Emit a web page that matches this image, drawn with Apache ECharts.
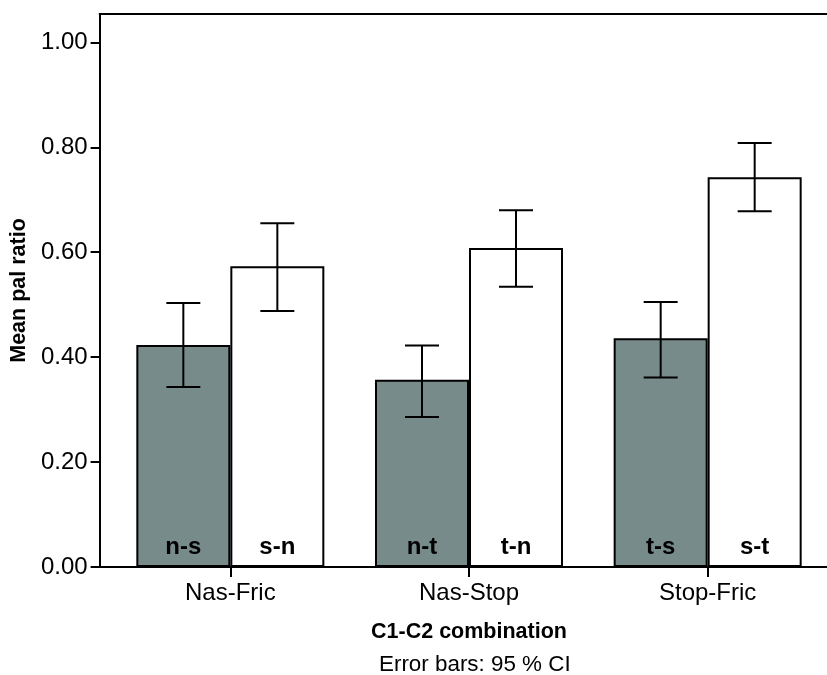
<!DOCTYPE html>
<html>
<head>
<meta charset="utf-8">
<script src="https://cdn.jsdelivr.net/npm/echarts@6/dist/echarts.min.js"></script>
<style>
  html, body { margin: 0; padding: 0; background: #fff; }
  #chart { width: 827px; height: 675px; }
</style>
</head>
<body>
<div id="chart"></div>
<script>
// data
const categories = ['Nas-Fric', 'Nas-Stop', 'Stop-Fric']
const c1c2Means = [0.423, 0.357, 0.436]
const c1c2Low = [0.343, 0.286, 0.361]
const c1c2High = [0.503, 0.422, 0.505]
const c1c2Labels = ['n-s', 'n-t', 't-s']
const c2c1Means = [0.573, 0.608, 0.743]
const c2c1Low = [0.488, 0.534, 0.678]
const c2c1High = [0.655, 0.680, 0.808]
const c2c1Labels = ['s-n', 't-n', 's-t']
const yTicks = [0, 0.2, 0.4, 0.6, 0.8, 1.0]
const yMax = 1.054

const FONT = '"Liberation Sans", Arial, Helvetica, sans-serif'
const BAR_W = 94

function errorBar(offset) {
  return function(params, api) {
    const lo = api.coord([api.value(0), api.value(1)])
    const hi = api.coord([api.value(0), api.value(2)])
    const x = lo[0] + offset
    const style = { stroke: '#000', lineWidth: 2 }
    return {
      type: 'group',
      children: [
        { type: 'line', shape: { x1: x, y1: hi[1], x2: x, y2: lo[1] }, style: style },
        { type: 'line', shape: { x1: x - 17, y1: hi[1], x2: x + 17, y2: hi[1] }, style: style },
        { type: 'line', shape: { x1: x - 17, y1: lo[1], x2: x + 17, y2: lo[1] }, style: style }
      ]
    }
  }
}

const chart = echarts.init(document.getElementById('chart'))
const option = {
  backgroundColor: '#fff',
  animation: false,
  textStyle: { fontFamily: FONT, color: '#000' },
  title: {
    text: 'Error bars: 95 % CI',
    left: 379,
    top: 654,
    padding: 0,
    textStyle: { fontFamily: FONT, fontSize: 22.4, fontWeight: 'normal', color: '#000' }
  },
  grid: [
    { left: 99, right: 0, top: 14, bottom: 108 },
    { left: 111, right: 0, top: 14, bottom: 108 }
  ],
  xAxis: [
    {
      gridIndex: 0, type: 'value', min: 0, max: 1, position: 'bottom',
      axisLine: { show: true, lineStyle: { color: '#000', width: 2 } },
      axisTick: { show: false }, axisLabel: { show: false }, splitLine: { show: false }
    },
    {
      gridIndex: 0, type: 'value', min: 0, max: 1, position: 'top',
      axisLine: { show: true, lineStyle: { color: '#000', width: 2 } },
      axisTick: { show: false }, axisLabel: { show: false }, splitLine: { show: false }
    },
    {
      gridIndex: 1, type: 'category', data: categories, position: 'bottom',
      axisLine: { show: false },
      axisTick: { show: true, alignWithLabel: true, length: 10, lineStyle: { color: '#000', width: 2 } },
      axisLabel: { fontFamily: FONT, fontSize: 24, color: '#000', margin: 14 },
      name: 'C1-C2 combination',
      nameLocation: 'middle',
      nameGap: 54,
      nameTextStyle: { fontFamily: FONT, fontSize: 21.5, fontWeight: 'bold', color: '#000' }
    }
  ],
  yAxis: [
    {
      gridIndex: 0, type: 'value', min: 0, max: yMax,
      axisLine: { show: true, lineStyle: { color: '#000', width: 2 } },
      axisTick: { show: true, length: 9, customValues: yTicks, lineStyle: { color: '#000', width: 2 } },
      axisLabel: {
        customValues: yTicks,
        fontFamily: FONT, fontSize: 24, color: '#000', margin: 12,
        formatter: v => v.toFixed(2)
      },
      splitLine: { show: false },
      name: 'Mean pal ratio',
      nameLocation: 'middle',
      nameGap: 63,
      nameTextStyle: { fontFamily: FONT, fontSize: 21.5, fontWeight: 'bold', color: '#000' }
    },
    { gridIndex: 1, type: 'value', min: 0, max: yMax, show: false }
  ],
  series: [
    {
      name: 'C1-C2',
      type: 'bar',
      xAxisIndex: 2, yAxisIndex: 1,
      barWidth: BAR_W, barGap: '0%',
      data: c1c2Means,
      itemStyle: { color: '#788b8b', borderColor: '#000', borderWidth: 2 },
      label: {
        show: true, position: 'insideBottom', distance: 8,
        fontFamily: FONT, fontSize: 24, fontWeight: 'bold', color: '#000',
        formatter: p => c1c2Labels[p.dataIndex]
      }
    },
    {
      name: 'C2-C1',
      type: 'bar',
      xAxisIndex: 2, yAxisIndex: 1,
      barWidth: BAR_W, barGap: '0%',
      data: c2c1Means,
      itemStyle: { color: '#fff', borderColor: '#000', borderWidth: 2 },
      label: {
        show: true, position: 'insideBottom', distance: 8,
        fontFamily: FONT, fontSize: 24, fontWeight: 'bold', color: '#000',
        formatter: p => c2c1Labels[p.dataIndex]
      }
    },
    {
      type: 'custom',
      xAxisIndex: 2, yAxisIndex: 1,
      renderItem: errorBar(-BAR_W / 2),
      encode: { x: 0, y: [1, 2] },
      data: categories.map((c, i) => [i, c1c2Low[i], c1c2High[i]]),
      z: 10
    },
    {
      type: 'custom',
      xAxisIndex: 2, yAxisIndex: 1,
      renderItem: errorBar(BAR_W / 2),
      encode: { x: 0, y: [1, 2] },
      data: categories.map((c, i) => [i, c2c1Low[i], c2c1High[i]]),
      z: 10
    }
  ]
}
chart.setOption(option)
</script>
</body>
</html>
